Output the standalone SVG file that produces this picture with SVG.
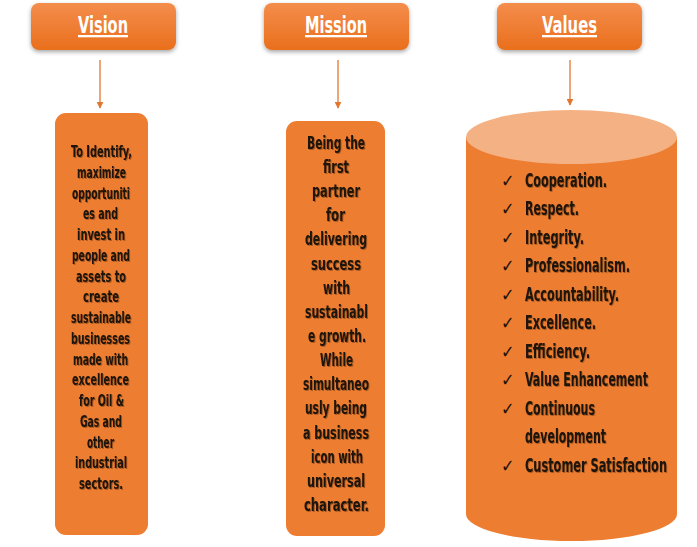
<svg xmlns="http://www.w3.org/2000/svg" width="697" height="547" viewBox="0 0 697 547">
  <defs>
    <linearGradient id="hdrGrad" x1="0" y1="0" x2="0" y2="1">
      <stop offset="0" stop-color="#F48D4C"/>
      <stop offset="1" stop-color="#E96F1C"/>
    </linearGradient>
    <filter id="hdrShadow" x="-10%" y="-20%" width="120%" height="150%">
      <feDropShadow dx="0" dy="2" stdDeviation="2" flood-color="#000" flood-opacity="0.35"/>
    </filter>
    <filter id="txtShadow" x="-5%" y="-10%" width="110%" height="130%">
      <feDropShadow dx="1" dy="1" stdDeviation="0.6" flood-color="#000" flood-opacity="0.3"/>
    </filter>
    <marker id="arrow" viewBox="0 0 10 10" refX="9" refY="5" markerWidth="7" markerHeight="7" markerUnits="userSpaceOnUse" orient="auto">
      <path d="M0,0 L10,5 L0,10 z" fill="#E2762F"/>
    </marker>
  </defs>
  <style>
    text { font-family: "Liberation Sans Narrow", "DejaVu Sans Condensed", "Liberation Sans", sans-serif; font-weight: bold; }
    .hdr { fill: url(#hdrGrad); filter: url(#hdrShadow); }
    .hdrText { font-size: 23px; fill: #ffffff; text-decoration: underline; }
    .body { fill: #ED7D31; }
    .vText { font-size: 15px; fill: #1c1208; filter: url(#txtShadow); }
    .mText { font-size: 18px; fill: #1c1208; filter: url(#txtShadow); }
    .listText { font-size: 19.5px; fill: #1c1208; filter: url(#txtShadow); }
    .check { font-family: "DejaVu Sans", sans-serif; font-weight: normal; font-size: 18px; fill: #1c1208; }
    .conn { stroke: #E2762F; stroke-width: 1.3; fill: none; marker-end: url(#arrow); }
  </style>

  <!-- Vision -->
  <g id="vision-header">
    <rect class="hdr" x="31" y="3" width="145" height="47" rx="8"/>
    <text class="hdrText" x="78" y="33" textLength="50" lengthAdjust="spacingAndGlyphs">Vision</text>
  </g>
  <g id="vision-body">
    <rect class="body" x="55" y="113" width="93" height="422" rx="11"/>
    <g class="vText">
      <text x="71" y="157" textLength="61" lengthAdjust="spacingAndGlyphs">To Identify,</text>
      <text x="77" y="178" textLength="49" lengthAdjust="spacingAndGlyphs">maximize</text>
      <text x="72" y="199" textLength="58" lengthAdjust="spacingAndGlyphs">opportuniti</text>
      <text x="83" y="219" textLength="35" lengthAdjust="spacingAndGlyphs">es and</text>
      <text x="77" y="240" textLength="48" lengthAdjust="spacingAndGlyphs">invest in</text>
      <text x="72" y="261" textLength="58" lengthAdjust="spacingAndGlyphs">people and</text>
      <text x="76" y="282" textLength="50" lengthAdjust="spacingAndGlyphs">assets to</text>
      <text x="83" y="302" textLength="36" lengthAdjust="spacingAndGlyphs">create</text>
      <text x="71" y="323" textLength="60" lengthAdjust="spacingAndGlyphs">sustainable</text>
      <text x="71" y="344" textLength="59" lengthAdjust="spacingAndGlyphs">businesses</text>
      <text x="73" y="365" textLength="55" lengthAdjust="spacingAndGlyphs">made with</text>
      <text x="72" y="385" textLength="57" lengthAdjust="spacingAndGlyphs">excellence</text>
      <text x="79" y="406" textLength="45" lengthAdjust="spacingAndGlyphs">for Oil &amp;</text>
      <text x="80" y="427" textLength="42" lengthAdjust="spacingAndGlyphs">Gas and</text>
      <text x="87" y="448" textLength="27" lengthAdjust="spacingAndGlyphs">other</text>
      <text x="75" y="468" textLength="52" lengthAdjust="spacingAndGlyphs">industrial</text>
      <text x="79" y="489" textLength="44" lengthAdjust="spacingAndGlyphs">sectors.</text>
    </g>
  </g>

  <!-- Mission -->
  <g id="mission-header">
    <rect class="hdr" x="264" y="3" width="145" height="47" rx="8"/>
    <text class="hdrText" x="305" y="33" textLength="62" lengthAdjust="spacingAndGlyphs">Mission</text>
  </g>
  <g id="mission-body">
    <rect class="body" x="286" y="121" width="99" height="415" rx="11"/>
    <g class="mText">
      <text x="307" y="149" textLength="58" lengthAdjust="spacingAndGlyphs">Being the</text>
      <text x="323" y="173" textLength="26" lengthAdjust="spacingAndGlyphs">first</text>
      <text x="312" y="197" textLength="48" lengthAdjust="spacingAndGlyphs">partner</text>
      <text x="326" y="221" textLength="19" lengthAdjust="spacingAndGlyphs">for</text>
      <text x="305" y="245" textLength="62" lengthAdjust="spacingAndGlyphs">delivering</text>
      <text x="311" y="270" textLength="50" lengthAdjust="spacingAndGlyphs">success</text>
      <text x="323" y="294" textLength="27" lengthAdjust="spacingAndGlyphs">with</text>
      <text x="305" y="318" textLength="63" lengthAdjust="spacingAndGlyphs">sustainabl</text>
      <text x="308" y="342" textLength="58" lengthAdjust="spacingAndGlyphs">e growth.</text>
      <text x="320" y="366" textLength="33" lengthAdjust="spacingAndGlyphs">While</text>
      <text x="303" y="390" textLength="66" lengthAdjust="spacingAndGlyphs">simultaneo</text>
      <text x="305" y="414" textLength="62" lengthAdjust="spacingAndGlyphs">usly being</text>
      <text x="303" y="439" textLength="66" lengthAdjust="spacingAndGlyphs">a business</text>
      <text x="311" y="463" textLength="52" lengthAdjust="spacingAndGlyphs">icon with</text>
      <text x="307" y="487" textLength="58" lengthAdjust="spacingAndGlyphs">universal</text>
      <text x="304" y="511" textLength="65" lengthAdjust="spacingAndGlyphs">character.</text>
    </g>
  </g>

  <!-- Values -->
  <g id="values-header">
    <rect class="hdr" x="497" y="3" width="145" height="47" rx="8"/>
    <text class="hdrText" x="542" y="33" textLength="55" lengthAdjust="spacingAndGlyphs">Values</text>
  </g>
  <g id="values-body">
    <path class="body" d="M466,137 L466,514 A105.5,27 0 0 0 677,514 L677,137 z"/>
    <ellipse cx="571.5" cy="137" rx="105.5" ry="27" fill="#F4B183"/>
    <g class="check">
      <text x="501" y="187">✓</text>
      <text x="501" y="215">✓</text>
      <text x="501" y="244">✓</text>
      <text x="501" y="272">✓</text>
      <text x="501" y="301">✓</text>
      <text x="501" y="329">✓</text>
      <text x="501" y="358">✓</text>
      <text x="501" y="386">✓</text>
      <text x="501" y="415">✓</text>
      <text x="501" y="472">✓</text>
    </g>
    <!-- condensed list: drawn at 0.75 horizontal scale -->
    <g class="listText" transform="translate(525 0) scale(0.75 1)">
      <text x="0" y="187" textLength="109.3" lengthAdjust="spacingAndGlyphs">Cooperation.</text>
      <text x="0" y="215" textLength="72" lengthAdjust="spacingAndGlyphs">Respect.</text>
      <text x="0" y="244" textLength="78.7" lengthAdjust="spacingAndGlyphs">Integrity.</text>
      <text x="0" y="272" textLength="140" lengthAdjust="spacingAndGlyphs">Professionalism.</text>
      <text x="0" y="301" textLength="125.3" lengthAdjust="spacingAndGlyphs">Accountability.</text>
      <text x="0" y="329" textLength="94.7" lengthAdjust="spacingAndGlyphs">Excellence.</text>
      <text x="0" y="358" textLength="86.7" lengthAdjust="spacingAndGlyphs">Efficiency.</text>
      <text x="0" y="386" textLength="164" lengthAdjust="spacingAndGlyphs">Value Enhancement</text>
      <text x="0" y="415" textLength="93.3" lengthAdjust="spacingAndGlyphs">Continuous</text>
      <text x="0" y="443" textLength="108" lengthAdjust="spacingAndGlyphs">development</text>
      <text x="0" y="472" textLength="189.3" lengthAdjust="spacingAndGlyphs">Customer Satisfaction</text>
    </g>
  </g>

  <!-- Connectors -->
  <g id="connectors">
    <line class="conn" x1="100" y1="60" x2="100" y2="108"/>
    <line class="conn" x1="338" y1="60" x2="338" y2="108"/>
    <line class="conn" x1="570" y1="60" x2="570" y2="105"/>
  </g>
</svg>
